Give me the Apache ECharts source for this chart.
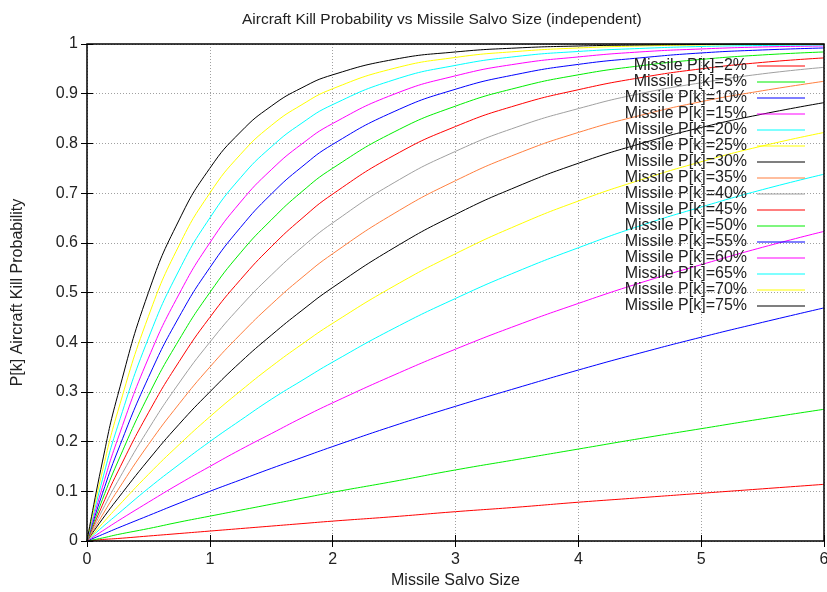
<!DOCTYPE html>
<html>
<head>
<meta charset="utf-8">
<script src="https://cdn.jsdelivr.net/npm/echarts@6/dist/echarts.min.js"></script>
<style>
html,body{margin:0;padding:0;background:#fff;}
#chart{width:827px;height:592px;}
</style>
</head>
<body>
<div id="chart"></div>
<script>
// Missile salvo sizes at which the curves were read
const salvo = [0, 0.125, 0.25, 0.5, 0.75, 1, 1.25, 1.5, 1.75, 2, 2.5, 3, 3.5, 4, 4.5, 5, 5.5, 6];

// Aircraft kill probability
const pk02 = [0, 0.003, 0.005, 0.010, 0.015, 0.020, 0.025, 0.030, 0.035, 0.040, 0.049, 0.059, 0.068, 0.078, 0.087, 0.096, 0.105, 0.114];
const pk05 = [0, 0.006, 0.013, 0.025, 0.038, 0.050, 0.062, 0.074, 0.086, 0.098, 0.120, 0.143, 0.164, 0.185, 0.206, 0.226, 0.246, 0.265];
const pk10 = [0, 0.013, 0.026, 0.051, 0.076, 0.100, 0.123, 0.146, 0.168, 0.190, 0.232, 0.271, 0.308, 0.344, 0.378, 0.410, 0.440, 0.469];
const pk15 = [0, 0.020, 0.040, 0.078, 0.115, 0.150, 0.184, 0.216, 0.248, 0.278, 0.334, 0.386, 0.434, 0.478, 0.519, 0.556, 0.591, 0.623];
const pk20 = [0, 0.028, 0.054, 0.106, 0.154, 0.200, 0.243, 0.285, 0.323, 0.360, 0.428, 0.488, 0.542, 0.590, 0.634, 0.672, 0.707, 0.738];
const pk25 = [0, 0.035, 0.069, 0.134, 0.194, 0.250, 0.302, 0.351, 0.396, 0.438, 0.513, 0.578, 0.635, 0.684, 0.726, 0.763, 0.795, 0.822];
const pk30 = [0, 0.044, 0.085, 0.163, 0.235, 0.300, 0.360, 0.414, 0.464, 0.510, 0.590, 0.657, 0.713, 0.760, 0.799, 0.832, 0.859, 0.882];
const pk35 = [0, 0.052, 0.102, 0.194, 0.276, 0.350, 0.416, 0.476, 0.530, 0.578, 0.659, 0.725, 0.779, 0.822, 0.856, 0.884, 0.906, 0.925];
const pk40 = [0, 0.062, 0.120, 0.225, 0.318, 0.400, 0.472, 0.535, 0.591, 0.640, 0.721, 0.784, 0.833, 0.870, 0.900, 0.922, 0.940, 0.953];
const pk45 = [0, 0.072, 0.139, 0.258, 0.361, 0.450, 0.526, 0.592, 0.649, 0.698, 0.776, 0.834, 0.877, 0.908, 0.932, 0.950, 0.963, 0.972];
const pk50 = [0, 0.083, 0.159, 0.293, 0.405, 0.500, 0.580, 0.646, 0.703, 0.750, 0.823, 0.875, 0.912, 0.938, 0.956, 0.969, 0.978, 0.984];
const pk55 = [0, 0.095, 0.181, 0.329, 0.451, 0.550, 0.631, 0.698, 0.753, 0.798, 0.864, 0.909, 0.939, 0.959, 0.972, 0.982, 0.988, 0.992];
const pk60 = [0, 0.108, 0.205, 0.368, 0.497, 0.600, 0.682, 0.747, 0.799, 0.840, 0.899, 0.936, 0.960, 0.974, 0.984, 0.990, 0.994, 0.996];
const pk65 = [0, 0.123, 0.231, 0.408, 0.545, 0.650, 0.731, 0.793, 0.841, 0.878, 0.928, 0.957, 0.975, 0.985, 0.991, 0.995, 0.997, 0.998];
const pk70 = [0, 0.140, 0.260, 0.452, 0.595, 0.700, 0.778, 0.836, 0.878, 0.910, 0.951, 0.973, 0.985, 0.992, 0.996, 0.998, 0.999, 0.999];
const pk75 = [0, 0.159, 0.293, 0.500, 0.646, 0.750, 0.823, 0.875, 0.912, 0.938, 0.969, 0.984, 0.992, 0.996, 0.998, 0.999, 1.000, 1.000];

const seriesNames = ['Missile P[k]=2%', 'Missile P[k]=5%', 'Missile P[k]=10%', 'Missile P[k]=15%',
  'Missile P[k]=20%', 'Missile P[k]=25%', 'Missile P[k]=30%', 'Missile P[k]=35%', 'Missile P[k]=40%',
  'Missile P[k]=45%', 'Missile P[k]=50%', 'Missile P[k]=55%', 'Missile P[k]=60%', 'Missile P[k]=65%',
  'Missile P[k]=70%', 'Missile P[k]=75%'];
const seriesValues = [pk02, pk05, pk10, pk15, pk20, pk25, pk30, pk35, pk40, pk45, pk50, pk55, pk60, pk65, pk70, pk75];

const xTicks = [0, 1, 2, 3, 4, 5, 6];
const yTicks = [0, 0.1, 0.2, 0.3, 0.4, 0.5, 0.6, 0.7, 0.8, 0.9, 1];

const palette = ['#ff0000', '#00ee00', '#0000ff', '#ff00ff', '#00ffff', '#ffff00', '#000000', '#ff7f3f', '#a0a0a0'];

const FONT = 'Liberation Sans';
const TXT = '#222222';

const chart = echarts.init(document.getElementById('chart'), null, {renderer: 'canvas'});

const series = seriesNames.map((name, i) => ({
  name: name,
  type: 'line',
  showSymbol: false,
  symbol: 'none',
  smooth: 0.5,
  xAxisIndex: 0,
  yAxisIndex: 0,
  color: palette[i % palette.length],
  lineStyle: {width: 1, color: palette[i % palette.length]},
  itemStyle: {color: palette[i % palette.length]},
  data: salvo.map((x, j) => [x, seriesValues[i][j]]),
  animation: false,
  z: 3
}));

const tickFmtX = v => String(v);
const tickFmtY = v => String(Math.round(v * 10) / 10);

chart.setOption({
  animation: false,
  backgroundColor: '#ffffff',
  title: {
    text: 'Aircraft Kill Probability vs Missile Salvo Size (independent)',
    left: 242,
    top: 12,
    padding: 0,
    textStyle: {fontFamily: FONT, fontSize: 15.5, fontWeight: 'normal', color: TXT}
  },
  grid: {left: 87, right: 3, top: 44, bottom: 51, outerBoundsMode: 'none', containLabel: false, show: true, borderColor: '#000', borderWidth: 1.5, backgroundColor: 'transparent', z: 5},
  legend: {
    orient: 'vertical',
    right: 17,
    top: 53,
    align: 'right',
    icon: 'rect',
    itemWidth: 48,
    itemHeight: 1,
    itemGap: 0,
    selectedMode: false,
    data: seriesNames,
    formatter: name => '{t|' + name + '}',
    textStyle: {
      fontFamily: FONT,
      fontSize: 16,
      color: TXT,
      rich: {t: {fontFamily: FONT, fontSize: 16, color: TXT, width: 150, align: 'right', padding: [0, 5, 0, 0]}}
    }
  },
  xAxis: [{
    type: 'value', min: 0, max: 6, interval: 1, position: 'bottom',
    name: 'Missile Salvo Size', nameLocation: 'middle', nameGap: 32,
    nameTextStyle: {fontFamily: FONT, fontSize: 16, color: TXT},
    axisLine: {show: false},
    axisTick: {show: true, inside: true, length: 6, lineStyle: {color: '#000', width: 1}},
    axisLabel: {fontFamily: FONT, fontSize: 16, color: TXT, margin: 11, formatter: tickFmtX, showMinLabel: true, showMaxLabel: true},
    splitLine: {show: true, lineStyle: {color: '#a0a0a0', type: [1, 2], width: 1}}
  }, {
    type: 'value', min: 0, max: 6, interval: 1, position: 'top',
    axisLine: {show: false},
    axisTick: {show: true, inside: true, length: 6, lineStyle: {color: '#000', width: 1}},
    axisLabel: {show: false},
    splitLine: {show: false}
  }],
  yAxis: [{
    type: 'value', min: 0, max: 1, interval: 0.1, position: 'left',
    name: 'P[k] Aircraft Kill Probability', nameLocation: 'middle', nameGap: 61,
    nameTextStyle: {fontFamily: FONT, fontSize: 16, color: TXT},
    axisLine: {show: false},
    axisTick: {show: true, inside: true, length: 6, lineStyle: {color: '#000', width: 1}},
    axisLabel: {fontFamily: FONT, fontSize: 16, color: TXT, margin: 9, formatter: tickFmtY},
    splitLine: {show: true, lineStyle: {color: '#a0a0a0', type: [1, 2], width: 1}}
  }, {
    type: 'value', min: 0, max: 1, interval: 0.1, position: 'right',
    axisLine: {show: false},
    axisTick: {show: true, inside: true, length: 6, lineStyle: {color: '#000', width: 1}},
    axisLabel: {show: false},
    splitLine: {show: false}
  }],
  series: series
});
</script>
</body>
</html>
